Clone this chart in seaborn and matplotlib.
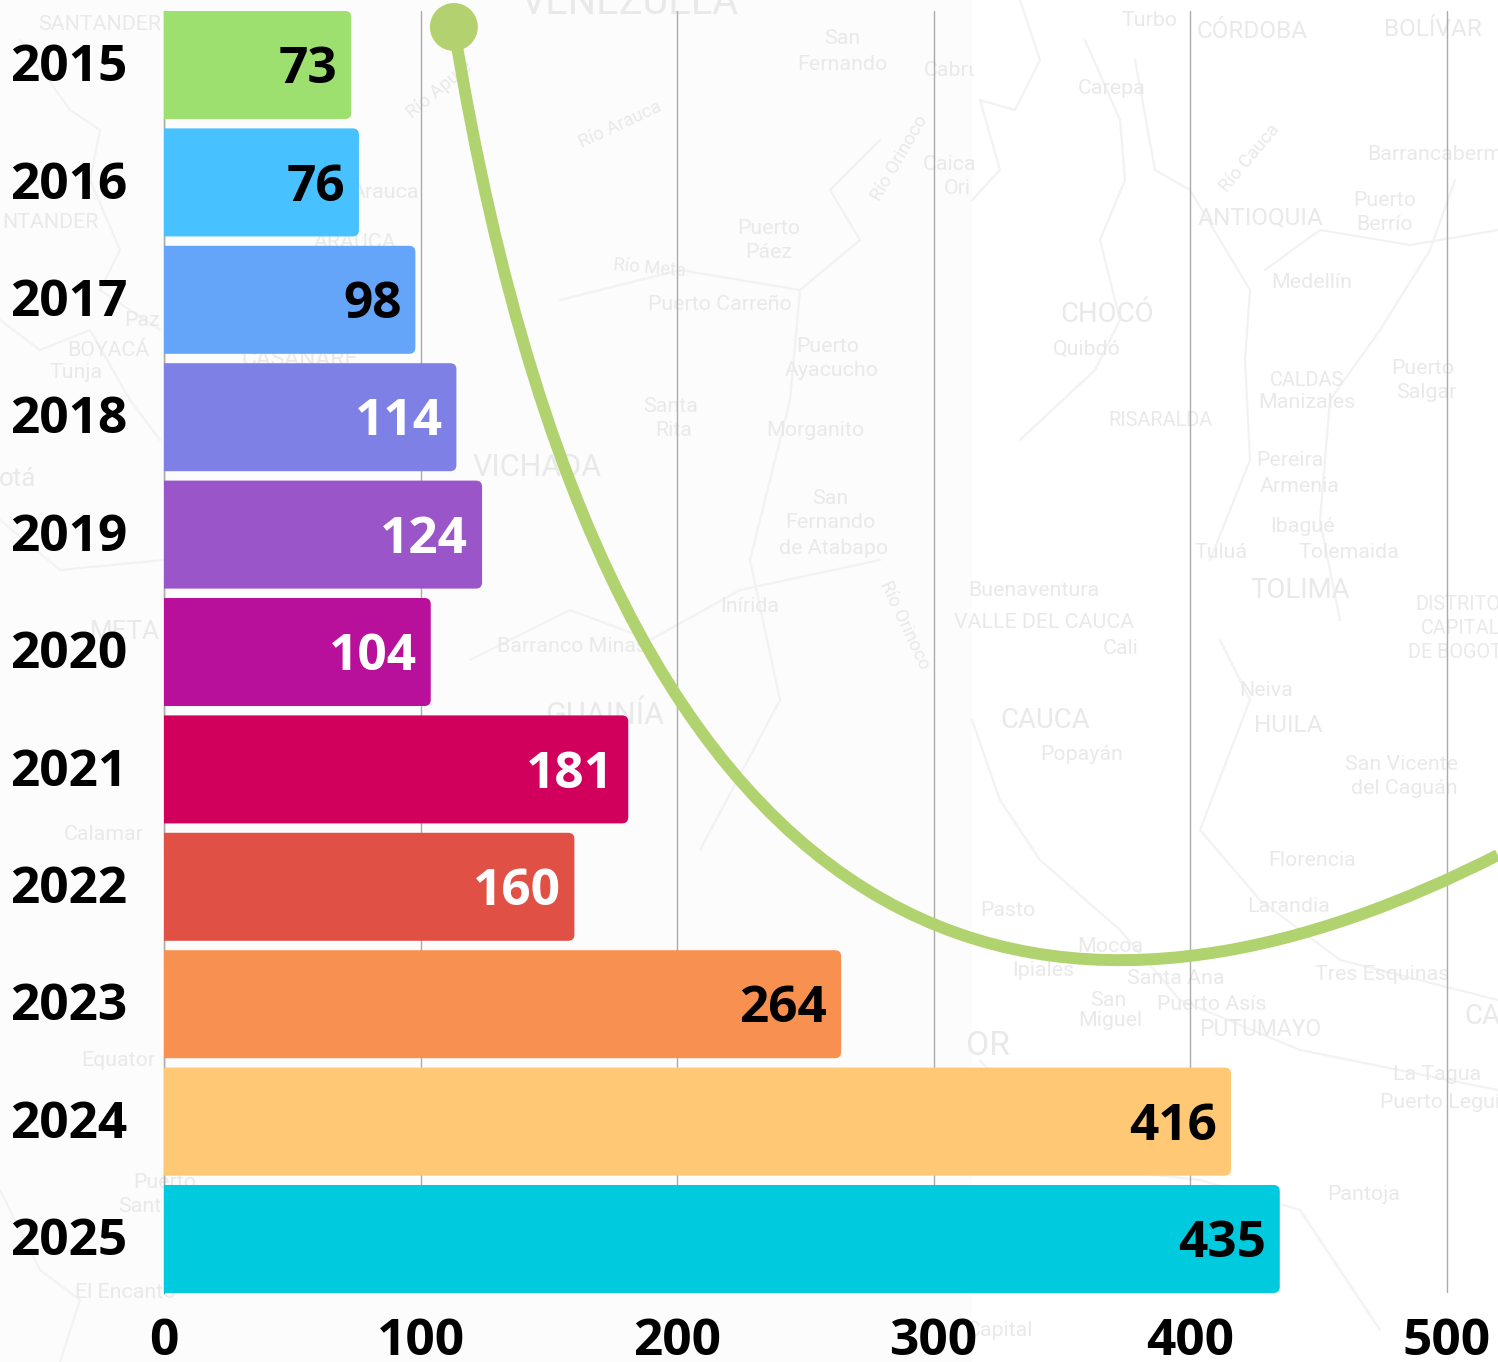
import matplotlib
matplotlib.use("Agg")
import matplotlib.pyplot as plt
import matplotlib.patches as patches
from matplotlib.path import Path
from matplotlib.transforms import ScaledTranslation
import pandas as pd
import seaborn as sns

# Values per year
years = ["2015", "2016", "2017", "2018", "2019", "2020", "2021", "2022", "2023", "2024", "2025"]
counts = [73, 76, 98, 114, 124, 104, 181, 160, 264, 416, 435]
bar_colors = ["#9EE06F", "#47C1FF", "#64A5FA", "#7E80E6", "#9A55C8", "#B9109B",
              "#D0005C", "#E05045", "#F89150", "#FFC875", "#00CADD"]
light_labels = ["2018", "2019", "2020", "2021", "2022"]
x_ticks = [0, 100, 200, 300, 400, 500]

# Decorative green curve (value axis, year band)
curve_x = [113.0, 180.5, 375.8, 520.0]
curve_y = [-0.324, 8.72, 8.33, 6.73]

# Faint map names behind the chart: name, pixel x, pixel y, size, rotation
map_names = [
    ("SANTANDER", 100, 24, 14, 0), ("NTANDER", 50, 222, 14, 0), ("Arauca", 385, 193, 14, 0),
    ("ARAUCA", 355, 243, 14, 0), ("Paz", 142, 321, 14, 0), ("BOYACÁ", 108, 351, 14, 0),
    ("Tunja", 76, 373, 14, 0), ("CASANARE", 300, 360, 15, 0), ("otá", 18, 479, 17, 0),
    ("META", 125, 632, 17, 0), ("Calamar", 104, 834, 14, 0), ("Equator", 118, 1060, 14, 0),
    ("Puerto", 165, 1182, 14, 0), ("Sant", 140, 1207, 14, 0), ("El Encanto", 125, 1292, 14, 0),
    ("VENEZUELA", 630, 2, 26, 0), ("San", 842, 39, 14, 0), ("Fernando", 842, 64, 14, 0),
    ("Cabrι", 950, 71, 14, 0), ("Caica", 950, 164, 14, 0), ("Ori", 957, 189, 14, 0),
    ("Río Arauca", 620, 125, 12, 25), ("Río Apure", 440, 90, 12, 40),
    ("Río Orinoco", 900, 158, 12, 60), ("Río Meta", 650, 268, 12, -5),
    ("Puerto", 769, 228, 14, 0), ("Páez", 769, 253, 14, 0), ("Puerto Carreño", 720, 304, 14, 0),
    ("Puerto", 828, 346, 14, 0), ("Ayacucho", 832, 371, 14, 0), ("Morganito", 815, 431, 14, 0),
    ("Santa", 671, 407, 14, 0), ("Rita", 674, 431, 14, 0), ("VICHADA", 537, 468, 20, 0),
    ("San", 830, 498, 14, 0), ("Fernando", 830, 523, 14, 0), ("de Atabapo", 834, 548, 14, 0),
    ("Inírida", 750, 606, 14, 0), ("Barranco Minas", 572, 647, 14, 0), ("GUAINÍA", 605, 716, 20, 0),
    ("Río Orinoco", 905, 625, 12, -65), ("Turbo", 1150, 21, 14, 0), ("CÓRDOBA", 1252, 31, 16, 0),
    ("BOLÍVAR", 1433, 29, 16, 0), ("Carepa", 1112, 89, 14, 0), ("Río Cauca", 1250, 158, 12, 50),
    ("Barrancaberm", 1435, 154, 14, 0), ("Puerto", 1385, 200, 14, 0), ("Berrío", 1385, 225, 14, 0),
    ("ANTIOQUIA", 1261, 218, 16, 0), ("Medellín", 1312, 283, 14, 0), ("CHOCÓ", 1107, 314, 18, 0),
    ("Quibdó", 1087, 349, 14, 0), ("CALDAS", 1307, 380, 13, 0), ("Manizales", 1307, 402, 14, 0),
    ("Puerto", 1423, 368, 14, 0), ("Salgar", 1426, 392, 14, 0), ("RISARALDA", 1160, 420, 13, 0),
    ("Pereira", 1290, 461, 14, 0), ("Armenia", 1300, 487, 14, 0), ("Ibagué", 1302, 526, 14, 0),
    ("Tuluá", 1221, 553, 14, 0), ("Tolemaida", 1349, 552, 14, 0), ("TOLIMA", 1300, 590, 18, 0),
    ("Buenaventura", 1034, 590, 14, 0), ("VALLE DEL CAUCA", 1044, 623, 14, 0), ("Cali", 1121, 649, 14, 0),
    ("DISTRITO", 1458, 604, 13, 0), ("CAPITAL", 1460, 628, 13, 0), ("DE BOGOTÁ", 1462, 653, 13, 0),
    ("Neiva", 1266, 691, 14, 0), ("HUILA", 1288, 726, 16, 0), ("CAUCA", 1045, 720, 18, 0),
    ("Popayán", 1082, 755, 14, 0), ("San Vicente", 1402, 764, 14, 0), ("del Caguán", 1404, 789, 14, 0),
    ("Florencia", 1312, 861, 14, 0), ("Larandia", 1289, 907, 14, 0), ("Pasto", 1008, 910, 14, 0),
    ("Mocoa", 1110, 946, 14, 0), ("Ipiales", 1043, 971, 14, 0), ("Santa Ana", 1176, 978, 14, 0),
    ("Tres Esquinas", 1382, 975, 14, 0), ("San", 1108, 1000, 14, 0), ("Miguel", 1110, 1021, 14, 0),
    ("Puerto Asís", 1212, 1005, 14, 0), ("PUTUMAYO", 1260, 1030, 15, 0), ("OR", 988, 1046, 22, 0),
    ("La Tagua", 1437, 1075, 14, 0), ("Puerto Leguí", 1440, 1102, 14, 0), ("Pantoja", 1364, 1194, 14, 0),
    ("Capital", 1000, 1331, 14, 0), ("CA", 1482, 1016, 18, 0),
]

# A few of the faint borders and rivers on the map, in pixels
map_lines = [
    [(0, 320), (40, 350), (90, 330), (130, 400), (160, 440)],
    [(20, 40), (70, 110), (100, 130), (90, 180), (120, 250), (100, 290), (160, 330)],
    [(1020, 0), (1040, 60), (1015, 110), (980, 100), (1000, 170), (972, 200)],
    [(1085, 40), (1120, 120), (1125, 180), (1100, 240), (1120, 320), (1095, 370), (1020, 440)],
    [(1135, 60), (1155, 170), (1190, 190), (1250, 290), (1245, 360), (1250, 460), (1210, 560)],
    [(1265, 270), (1320, 230), (1410, 245), (1440, 240), (1498, 230)],
    [(1455, 180), (1430, 250), (1380, 330), (1330, 400), (1320, 520), (1340, 620)],
    [(700, 850), (780, 700), (750, 560), (790, 400), (800, 290), (680, 270), (560, 300)],
    [(880, 140), (830, 190), (860, 240), (800, 290)],
    [(972, 720), (1000, 800), (1040, 860), (1120, 930), (1180, 1000), (1300, 1050), (1498, 1090)],
    [(1220, 640), (1250, 700), (1200, 830), (1260, 900), (1340, 960), (1498, 1000)],
    [(980, 1060), (1030, 1120), (1110, 1170), (1200, 1180), (1300, 1210), (1380, 1330)],
    [(0, 1190), (40, 1270), (80, 1300), (60, 1362)],
    [(164, 560), (60, 570), (0, 520)],
    [(470, 660), (570, 610), (650, 640), (740, 590), (880, 560)],
]

sns.set_theme(style="white")
plt.rcParams["font.family"] = ["Open Sans", "DejaVu Sans"]

fig = plt.figure(figsize=(14.98, 13.62), dpi=100)
fig.patch.set_facecolor("white")

# Map layer in pixel coordinates
bg = fig.add_axes([0, 0, 1, 1], zorder=0)
bg.set_xlim(0, 1498)
bg.set_ylim(1362, 0)
bg.axis("off")
bg.add_patch(patches.Rectangle((0, 0), 972, 1362, facecolor="#FCFCFC", edgecolor="none"))
for line in map_lines:
    bg.plot([p[0] for p in line], [p[1] for p in line], color="#F2F2F2", lw=1.6)
for name, px, py, size, rot in map_names:
    bg.text(px, py, name, fontsize=size * 1.1, rotation=rot, color="#E9E9E9", ha="center", va="center",
            family="Roboto", clip_on=True)

ax = fig.add_axes([164 / 1498, 1 - 1293 / 1362, 1 - 164 / 1498, 1282 / 1362], zorder=1)
ax.patch.set_alpha(0)

df = pd.DataFrame({"year": years, "count": counts})
sns.barplot(data=df, y="year", x="count", hue="year", palette=bar_colors, order=years,
            hue_order=years, dodge=False, width=0.92, orient="h", legend=False, ax=ax)

ax.set_xlim(0, 1334 / 2.565)
ax.set_ylim(10.46, -0.46)
ax.set_xlabel("")
ax.set_ylabel("")
ax.set_xticks(x_ticks)
ax.tick_params(axis="both", length=0, labelsize=37)
ax.tick_params(axis="x", pad=17)
ax.tick_params(axis="y", pad=26.5)
for lab in ax.get_xticklabels() + ax.get_yticklabels():
    lab.set_fontweight("bold")
    lab.set_color("black")
# year labels sit a little above the bar centre
nudge = ScaledTranslation(0, 2 / 72, fig.dpi_scale_trans)
for lab in ax.get_yticklabels():
    lab.set_transform(lab.get_transform() + nudge)
ax.grid(axis="x", color="#ABABAB", lw=1)
ax.grid(axis="y", visible=False)
ax.set_axisbelow(True)
for side in ["top", "right", "bottom"]:
    ax.spines[side].set_visible(False)
ax.spines["left"].set_color("#888888")
ax.spines["left"].set_linewidth(1)
ax.spines["left"].set_zorder(0.5)

# Swap the flat bars for ones with rounded ends
for bar, color in zip(list(ax.patches), bar_colors):
    x, y, w, h = bar.get_x(), bar.get_y(), bar.get_width(), bar.get_height()
    bar.set_visible(False)
    ax.add_patch(patches.FancyBboxPatch((x - 5, y), w + 5, h, boxstyle="round,pad=0,rounding_size=2.4",
                                        mutation_aspect=0.0222, facecolor=color, edgecolor="none", zorder=2))

for i, (year, count) in enumerate(zip(years, counts)):
    color = "white" if year in light_labels else "black"
    ax.annotate(str(count), (count, i), xytext=(-10, 0.6), textcoords="offset points", ha="right",
                va="center_baseline", fontsize=37, fontweight="bold", color=color, zorder=3)

# Green curve with the dot on its start
verts = list(zip(curve_x, curve_y))
curve = patches.PathPatch(Path(verts, [Path.MOVETO, Path.CURVE4, Path.CURVE4, Path.CURVE4]),
                          facecolor="none", edgecolor="#B0D36F", lw=8.6, capstyle="butt", zorder=4, clip_on=False)
ax.add_patch(curve)
ax.scatter(curve_x[:1], curve_y[:1], s=1190, color="#B3D16F", edgecolor="none", zorder=5, clip_on=False)

fig.savefig("out.png", dpi=100)
